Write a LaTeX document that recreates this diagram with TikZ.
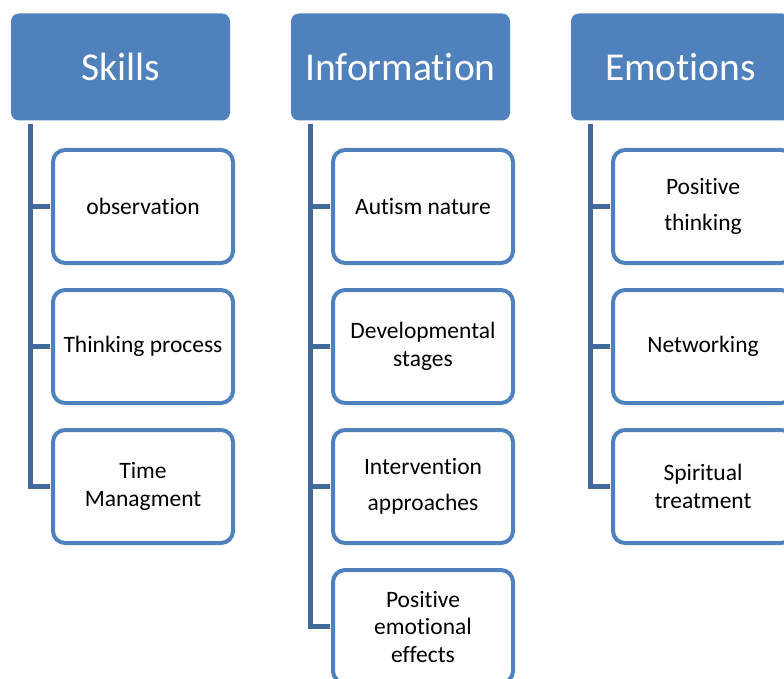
\documentclass[tikz,border=0pt]{standalone}
\usepackage{fontspec}
\setmainfont{Carlito}[Ligatures={NoCommon}]
\definecolor{hdr}{HTML}{4F81BD}
\definecolor{conn}{HTML}{41699B}
\definecolor{brd}{HTML}{4F81BD}
\begin{document}
\begin{tikzpicture}[x=1pt,y=-1pt,
  header/.style={fill=hdr, draw=none, rounded corners=8pt, minimum width=219pt, minimum height=107pt, inner sep=0pt, text=white, font=\fontsize{39.5}{46}\selectfont},
  child/.style={draw=brd, line width=4pt, fill=white, rounded corners=12pt, minimum width=180pt, minimum height=113pt, inner sep=0pt, align=center, font=\fontsize{23.5}{27.5}\selectfont},
  link/.style={draw=conn, line width=5pt}]
\useasboundingbox (0,0) rectangle (784,679);
\clip (0,0) rectangle (784,679);
% headers
\node[header] (hS) at (120.5,67) {Skills};
\node[header] (hI) at (400.5,67) {Information};
\node[header] (hE) at (680.5,67) {Emotions};
% top coordinates of connectors
\coordinate (tS) at ([xshift=20pt,yshift=-3pt]hS.south west);
\coordinate (tI) at ([xshift=20pt,yshift=-3pt]hI.south west);
\coordinate (tE) at ([xshift=20pt,yshift=-3pt]hE.south west);
% Skills children
\node[child] (s1) at (143,206.5) {observation};
\node[child] (s2) at (143,346.5) {Thinking process};
\node[child] (s3) at (143,486.5) {Time\\Managment};
% Information children
\node[child] (i1) at (423,206.5) {Autism nature};
\node[child] (i2) at (423,346.5) {Developmental\\stages};
\node[child] (i3) at (423,486.5) {Intervention\\[9pt]approaches};
\node[child] (i4) at (423,626.5) {Positive\\emotional\\effects};
% Emotions children
\node[child] (e1) at (703,206.5) {Positive\\[9pt]thinking};
\node[child] (e2) at (703,346.5) {Networking};
\node[child] (e3) at (703,486.5) {Spiritual\\treatment};
% connectors
\foreach \t/\c in {tS/s1,tS/s2,tS/s3,tI/i1,tI/i2,tI/i3,tI/i4,tE/e1,tE/e2,tE/e3}{
  \draw[link] (\t) |- ([xshift=-1pt]\c.west);
}
\end{tikzpicture}
\end{document}
